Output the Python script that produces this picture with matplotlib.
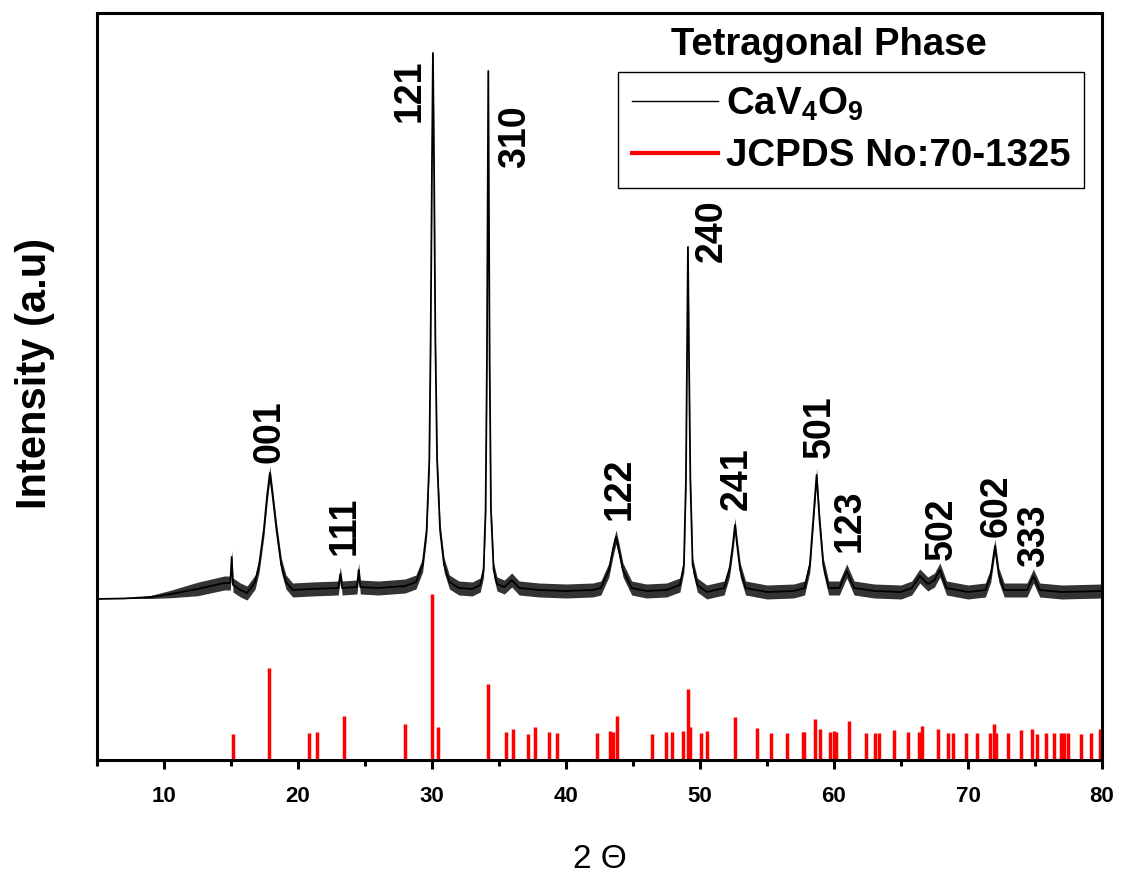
import numpy as np
import matplotlib.pyplot as plt
from matplotlib.lines import Line2D

plt.rcParams['font.family'] = ['Liberation Sans', 'DejaVu Sans']
plt.rcParams['mathtext.fontset'] = 'custom'
plt.rcParams['mathtext.rm'] = 'Liberation Sans:bold'
plt.rcParams['mathtext.bf'] = 'Liberation Sans:bold'

two_theta = [5.0, 7.0, 9.0, 10.5, 12.5, 14.5, 14.95, 15.05, 15.15, 15.7, 16.2,
             16.8, 17.1, 17.45, 17.7, 17.9, 18.1, 18.4, 18.75, 19.1, 19.6,
             21.0, 23.0, 23.16, 23.3, 24.4, 24.53, 24.65, 26.0, 28.0,
             28.8, 29.3, 29.6, 29.8, 29.9, 30.0, 30.07, 30.15, 30.25, 30.38, 30.6, 30.9, 31.3,
             32.0, 33.0, 33.6, 33.85, 34.0, 34.1, 34.2, 34.3, 34.4, 34.6, 34.85,
             35.4, 35.95, 36.5, 38.0, 40.0, 42.0,
             42.6, 43.2, 43.5, 43.73, 43.95, 44.25, 44.9,
             46.0, 47.5, 48.5, 48.8, 48.95, 49.03, 49.1, 49.18, 49.28, 49.45, 49.8,
             50.5, 51.8, 52.2, 52.45, 52.61, 52.77, 53.0, 53.4,
             55.0, 57.0, 57.8, 58.2, 58.45, 58.7, 58.92, 59.2, 59.6,
             60.4, 60.95, 61.5, 63.0, 65.0,
             65.8, 66.4, 67.0, 67.5, 67.9, 68.4, 70.0,
             71.3, 71.7, 72.01, 72.3, 72.7, 74.4, 74.88, 75.35, 77.0, 80.0]
intensity = [161, 161.5, 163, 166, 171, 177, 177, 203, 175, 170, 167,
             178, 195, 230, 265, 287, 265, 230, 195, 178, 170,
             171, 172, 186, 172, 173, 190, 173, 172, 174,
             178, 195, 230, 300, 420, 600, 707, 600, 420, 300, 230, 195, 178,
             172, 171, 175, 190, 250, 400, 689, 400, 250, 190, 176,
             173, 180, 172, 170, 169, 170,
             172, 190, 210, 223, 210, 190, 172,
             169, 170, 175, 195, 280, 400, 513, 400, 280, 195, 175,
             168, 172, 190, 215, 235, 215, 190, 172,
             168, 169, 172, 195, 240, 285, 240, 195, 172,
             172, 189, 172, 169, 168,
             172, 184, 176, 180, 190, 172, 168,
             170, 185, 214, 185, 170, 170, 184, 170, 168, 169]

# JCPDS 70-1325 reference lines
ref_pos = [15.13, 17.81, 20.80, 21.40, 23.46, 28.01, 30.00, 30.46, 34.16, 35.50,
           36.07, 37.19, 37.72, 38.76, 39.31, 42.34, 43.28, 43.54, 43.78, 46.40,
           47.44, 47.94, 48.76, 49.08, 49.25, 50.07, 50.50, 52.61, 54.23, 55.30,
           56.52, 57.66, 57.79, 58.58, 58.99, 59.73, 59.98, 60.13, 61.12, 62.37,
           63.06, 63.36, 64.46, 65.55, 66.34, 66.60, 67.74, 68.54, 68.91, 69.83,
           70.65, 71.67, 71.92, 72.12, 72.97, 73.96, 74.76, 75.13, 75.80, 76.45,
           76.94, 77.20, 77.44, 78.43, 79.18, 79.85]
ref_int = [26, 92, 27, 28, 44, 36, 166, 33, 76, 28,
           31, 26, 33, 28, 27, 27, 29, 28, 44, 26,
           28, 28, 29, 71, 33, 27, 29, 43, 32, 27,
           27, 28, 28, 41, 31, 28, 29, 28, 39, 27,
           27, 27, 30, 28, 28, 34, 31, 27, 27, 27,
           27, 27, 36, 27, 27, 30, 31, 26, 27, 27,
           27, 27, 27, 26, 27, 31]

# hkl labels and where they sit
hkl = ['001', '111', '121', '310', '122', '240', '241', '501', '123', '502', '602', '333']
hkl_x = [17.88, 23.48, 28.34, 36.17, 44.0, 50.87, 52.74, 58.94, 61.18, 68.05, 72.16, 74.92]
hkl_y = [297, 205, 638, 592, 240, 498, 250, 302, 208, 200, 223, 193]

tt = np.array(two_theta)
yy = np.array(intensity, dtype=float)

fig = plt.figure(figsize=(11.25, 8.8), dpi=100)
ax = fig.add_axes([97 / 1125, 120 / 880, 1005 / 1125, 747 / 880])

# noise band of the measurement (grows in above ~8 deg) + mean trace
noise_hw = np.clip((tt - 8) * 1.5, 0, 7)
ax.fill_between(tt, yy - noise_hw, yy + noise_hw, color='black', alpha=0.8, lw=0)
ax.plot(tt, yy, color='black', lw=1.3)
ax.vlines(ref_pos, 0, ref_int, color='red', lw=2.5)

for lab, x, y in zip(hkl, hkl_x, hkl_y):
    ax.text(x, y, lab, rotation=90, ha='center', va='bottom', fontsize=27, fontweight='bold')

ax.set_xlim(5, 80)
ax.set_ylim(0, 747)
ax.set_xticks(range(10, 81, 10))
ax.set_xticks(range(5, 81, 10), minor=True)
ax.set_yticks([])
ax.tick_params(axis='x', which='major', direction='out', length=6.5, width=2.2, pad=12, labelsize=16)
ax.tick_params(axis='x', which='minor', direction='out', length=4.5, width=2.2)
for lbl in ax.get_xticklabels():
    lbl.set_fontweight('bold')
for sp in ax.spines.values():
    sp.set_linewidth(2.2)

fig.text(35 / 1125, 1 - 373 / 880, 'Intensity (a.u)', rotation=90, ha='center', va='center',
         fontsize=30, fontweight='bold')
fig.text(600 / 1125, 1 - 859 / 880, '2 Θ', ha='center', va='center', fontsize=24)

handles = [Line2D([], [], color='black', lw=1),
           Line2D([], [], color='red', lw=3)]
leg = ax.legend(handles, [r'CaV$_4$O$_9$', 'JCPDS No:70-1325'],
                loc='upper right', bbox_to_anchor=(1084 / 1125, 1 - 72 / 880),
                bbox_transform=fig.transFigure, borderaxespad=0,
                prop={'size': 27.7, 'weight': 'bold'}, handlelength=2.25,
                handletextpad=0.2, labelspacing=0.4, borderpad=0.35,
                fancybox=False, framealpha=1, edgecolor='black')
leg.get_frame().set_linewidth(1)
fig.text(829 / 1125, 1 - 55 / 880, 'Tetragonal Phase', ha='center', va='baseline',
         fontsize=27.5, fontweight='bold')

plt.savefig('out.png', dpi=100)
